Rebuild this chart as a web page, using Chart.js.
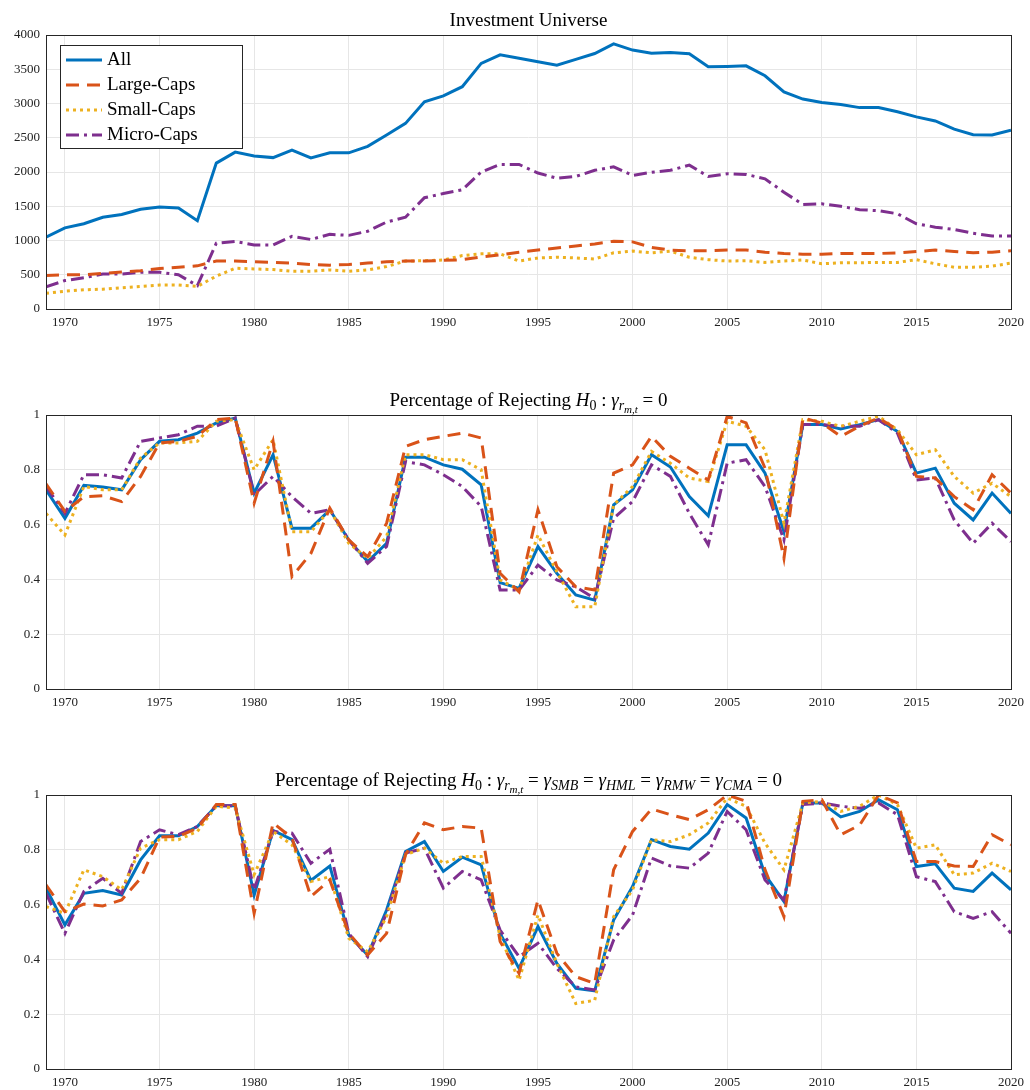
<!DOCTYPE html>
<html>
<head>
<meta charset="utf-8">
<script src="https://cdn.jsdelivr.net/npm/chart.js@4/dist/chart.umd.min.js"></script>
<style>
body { margin:0; background:#fff; }
.panel { position:absolute; left:0; width:1030px; }
</style>
</head>
<body>
<div class="panel" style="top:0;height:340px"><canvas id="c1"></canvas></div>
<div class="panel" style="top:380px;height:340px"><canvas id="c2"></canvas></div>
<div class="panel" style="top:760px;height:340px"><canvas id="c3"></canvas></div>
<script>
var years = [];
for (var y = 1969; y <= 2020; y++) years.push(y);
var xTicks = [1970, 1975, 1980, 1985, 1990, 1995, 2000, 2005, 2010, 2015, 2020];
var seriesNames = ['All', 'Large-Caps', 'Small-Caps', 'Micro-Caps'];

// Investment universe (number of stocks)
var uniAll = [1050,1185,1245,1340,1380,1455,1490,1475,1290,2130,2290,2235,2210,2320,2205,2280,2280,2375,2540,2710,3025,3110,3245,3585,3710,3660,3610,3560,3645,3730,3870,3780,3735,3745,3725,3535,3540,3550,3405,3170,3065,3015,2985,2940,2940,2880,2805,2745,2625,2545,2540,2610];
var uniLarge = [490,500,500,520,540,560,590,610,630,700,700,690,680,670,650,640,650,670,690,700,700,710,720,760,790,830,860,890,920,950,990,980,900,860,850,850,860,860,830,810,800,800,810,810,810,820,840,860,840,820,830,850];
var uniSmall = [230,260,280,290,310,330,350,350,330,480,595,585,575,550,550,570,550,570,620,700,705,715,780,805,805,700,745,755,745,730,820,845,820,845,755,720,700,705,680,700,715,660,675,675,680,680,720,660,610,610,625,670];
var uniMicro = [325,415,455,510,510,535,535,500,340,960,985,935,935,1060,1015,1090,1075,1135,1270,1340,1625,1685,1740,2000,2110,2110,1985,1910,1935,2025,2075,1950,1995,2025,2100,1935,1975,1965,1900,1705,1525,1535,1500,1450,1435,1390,1245,1195,1160,1105,1065,1065];

// Share rejecting H0: gamma_rm = 0
var p1All = [0.727,0.623,0.743,0.737,0.727,0.837,0.904,0.91,0.934,0.971,0.989,0.715,0.855,0.587,0.587,0.654,0.544,0.465,0.532,0.846,0.846,0.818,0.802,0.745,0.388,0.367,0.52,0.422,0.343,0.324,0.672,0.727,0.855,0.81,0.702,0.632,0.891,0.891,0.788,0.574,0.965,0.965,0.949,0.965,0.983,0.94,0.788,0.806,0.678,0.617,0.715,0.641];
var p1Large = [0.749,0.648,0.702,0.705,0.684,0.776,0.898,0.904,0.922,0.983,0.989,0.678,0.904,0.41,0.495,0.66,0.544,0.483,0.605,0.885,0.91,0.922,0.934,0.916,0.422,0.355,0.654,0.446,0.373,0.361,0.788,0.818,0.922,0.849,0.806,0.763,0.995,0.971,0.806,0.477,0.989,0.971,0.922,0.959,0.989,0.946,0.776,0.77,0.702,0.654,0.782,0.715];
var p1Small = [0.641,0.562,0.739,0.727,0.727,0.843,0.898,0.898,0.904,0.977,0.983,0.8,0.91,0.574,0.574,0.654,0.532,0.477,0.556,0.855,0.855,0.837,0.837,0.8,0.398,0.361,0.562,0.428,0.3,0.3,0.672,0.739,0.867,0.824,0.77,0.757,0.977,0.959,0.873,0.605,0.983,0.977,0.959,0.977,0.995,0.946,0.855,0.873,0.776,0.715,0.751,0.702];
var p1Micro = [0.739,0.641,0.782,0.782,0.77,0.904,0.916,0.928,0.959,0.959,0.989,0.709,0.776,0.702,0.641,0.654,0.544,0.459,0.52,0.83,0.818,0.782,0.739,0.666,0.361,0.361,0.452,0.398,0.373,0.33,0.623,0.684,0.818,0.776,0.641,0.526,0.824,0.837,0.739,0.544,0.965,0.965,0.959,0.959,0.983,0.934,0.763,0.77,0.617,0.532,0.605,0.538];

// Share rejecting joint H0 (five factors)
var p5All = [0.66,0.526,0.641,0.651,0.635,0.763,0.851,0.851,0.885,0.961,0.961,0.635,0.871,0.837,0.688,0.741,0.489,0.416,0.58,0.794,0.83,0.721,0.773,0.745,0.495,0.367,0.52,0.385,0.294,0.285,0.544,0.666,0.837,0.812,0.802,0.861,0.965,0.916,0.709,0.611,0.971,0.971,0.92,0.94,0.983,0.946,0.739,0.749,0.66,0.648,0.715,0.654];
var p5Large = [0.672,0.574,0.602,0.595,0.617,0.696,0.846,0.849,0.879,0.965,0.965,0.568,0.898,0.843,0.629,0.69,0.495,0.416,0.495,0.782,0.898,0.873,0.885,0.879,0.465,0.349,0.617,0.422,0.337,0.312,0.727,0.867,0.949,0.928,0.91,0.946,1.0,0.977,0.727,0.556,0.977,0.983,0.855,0.89,1.0,0.971,0.757,0.757,0.741,0.739,0.855,0.818];
var p5Small = [0.593,0.568,0.727,0.702,0.654,0.806,0.837,0.837,0.867,0.959,0.952,0.709,0.867,0.818,0.684,0.702,0.477,0.428,0.556,0.782,0.806,0.751,0.776,0.776,0.483,0.324,0.562,0.385,0.239,0.251,0.556,0.654,0.837,0.83,0.855,0.898,0.989,0.959,0.824,0.727,0.971,0.977,0.94,0.959,1.0,0.965,0.806,0.818,0.709,0.715,0.751,0.721];
var p5Micro = [0.641,0.495,0.648,0.696,0.641,0.83,0.873,0.855,0.885,0.961,0.961,0.654,0.867,0.861,0.751,0.802,0.495,0.41,0.568,0.788,0.806,0.66,0.721,0.69,0.507,0.41,0.459,0.367,0.3,0.288,0.471,0.562,0.77,0.741,0.733,0.788,0.94,0.873,0.69,0.617,0.965,0.971,0.959,0.952,0.971,0.928,0.702,0.684,0.574,0.55,0.574,0.495];

var colors = ['#0072BD', '#D95319', '#EDB120', '#7E2F8E'];
var dashes = [[], [13, 8], [3, 4], [13, 5, 3, 5]];
var serif = '"Liberation Serif", "DejaVu Serif", serif';

function makeDatasets(arrs) {
    var ds = [];
    for (var i = 0; i < arrs.length; i++) {
        ds.push({
            label: seriesNames[i],
            data: years.map(function (yr, k) { return { x: yr, y: arrs[i][k] }; }),
            borderColor: colors[i],
            backgroundColor: colors[i],
            borderWidth: 3,
            borderDash: dashes[i],
            pointRadius: 0,
            tension: 0,
            fill: false
        });
    }
    // draw All on top
    return [ds[1], ds[2], ds[3], ds[0]];
}

// title drawn from segments so H0 and gamma subscripts look right
function titlePlugin(segs) {
    return {
        id: 'richTitle',
        afterDraw: function (chart) {
            var ctx = chart.ctx, a = chart.chartArea;
            function fontFor(s) {
                var size = s.lvl === 2 ? 11 : (s.lvl === 1 ? 14 : 19);
                return (s.it ? 'italic ' : '') + size + 'px ' + serif;
            }
            var total = 0;
            segs.forEach(function (s) { ctx.font = fontFor(s); total += ctx.measureText(s.t).width; });
            var x = (a.left + a.right) / 2 - total / 2, base = a.top - 9;
            ctx.save();
            ctx.fillStyle = '#000';
            ctx.textBaseline = 'alphabetic';
            segs.forEach(function (s) {
                ctx.font = fontFor(s);
                var dy = s.lvl === 2 ? 7 : (s.lvl === 1 ? 4 : 0);
                ctx.fillText(s.t, x, base + dy);
                x += ctx.measureText(s.t).width;
            });
            ctx.restore();
        }
    };
}

var framePlugin = {
    id: 'frame',
    afterDraw: function (chart) {
        var ctx = chart.ctx, a = chart.chartArea;
        ctx.save();
        ctx.strokeStyle = '#262626';
        ctx.lineWidth = 1;
        ctx.strokeRect(a.left + 0.5, a.top + 0.5, a.right - a.left, a.bottom - a.top);
        ctx.restore();
    }
};

var legendPlugin = {
    id: 'boxLegend',
    afterDraw: function (chart) {
        var ctx = chart.ctx, a = chart.chartArea;
        var x0 = a.left + 14, y0 = a.top + 10, w = 182, h = 103;
        ctx.save();
        ctx.fillStyle = '#fff';
        ctx.fillRect(x0, y0, w, h);
        ctx.strokeStyle = '#262626';
        ctx.lineWidth = 1;
        ctx.strokeRect(x0 + 0.5, y0 + 0.5, w, h);
        ctx.font = '19px ' + serif;
        ctx.textBaseline = 'middle';
        for (var i = 0; i < 4; i++) {
            var cy = y0 + 15 + i * 25;
            ctx.strokeStyle = colors[i];
            ctx.lineWidth = 3;
            ctx.setLineDash(dashes[i]);
            ctx.beginPath();
            ctx.moveTo(x0 + 6, cy);
            ctx.lineTo(x0 + 42, cy);
            ctx.stroke();
            ctx.setLineDash([]);
            ctx.fillStyle = '#000';
            ctx.fillText(seriesNames[i], x0 + 47, cy);
        }
        ctx.restore();
    }
};

function makeChart(id, arrs, yMax, yStep, segs, withLegend) {
    var plugins = [framePlugin, titlePlugin(segs)];
    if (withLegend) plugins.push(legendPlugin);
    return new Chart(document.getElementById(id), {
        type: 'line',
        data: { datasets: makeDatasets(arrs) },
        plugins: plugins,
        options: {
            responsive: true,
            maintainAspectRatio: false,
            animation: false,
            layout: { padding: { top: 35, right: 19, left: 0, bottom: 0 } },
            plugins: { legend: { display: false }, title: { display: false }, tooltip: { enabled: false } },
            scales: {
                x: {
                    type: 'linear', min: 1969, max: 2020,
                    afterBuildTicks: function (s) { s.ticks = xTicks.map(function (v) { return { value: v }; }); },
                    afterFit: function (s) { s.height = 31; },
                    grid: { color: '#e6e6e6', drawTicks: false },
                    border: { display: false },
                    ticks: { color: '#222', padding: 6, maxRotation: 0, font: { family: serif, size: 13 }, callback: function (v) { return String(v); } }
                },
                y: {
                    min: 0, max: yMax,
                    afterFit: function (s) { s.width = 46; },
                    grid: { color: '#e6e6e6', drawTicks: false },
                    border: { display: false },
                    ticks: { stepSize: yStep, color: '#222', padding: 6, font: { family: serif, size: 13 }, callback: function (v) { return String(Math.round(v * 10) / 10); } }
                }
            }
        }
    });
}

makeChart('c1', [uniAll, uniLarge, uniSmall, uniMicro], 4000, 500,
    [{ t: 'Investment Universe' }], true);

makeChart('c2', [p1All, p1Large, p1Small, p1Micro], 1, 0.2,
    [{ t: 'Percentage of Rejecting ' }, { t: 'H', it: 1 }, { t: '0', lvl: 1 }, { t: ' : ' }, { t: 'γ', it: 1 },
     { t: 'r', it: 1, lvl: 1 }, { t: 'm,t', it: 1, lvl: 2 }, { t: ' = 0' }], false);

makeChart('c3', [p5All, p5Large, p5Small, p5Micro], 1, 0.2,
    [{ t: 'Percentage of Rejecting ' }, { t: 'H', it: 1 }, { t: '0', lvl: 1 }, { t: ' : ' }, { t: 'γ', it: 1 },
     { t: 'r', it: 1, lvl: 1 }, { t: 'm,t', it: 1, lvl: 2 }, { t: ' = ' }, { t: 'γ', it: 1 }, { t: 'SMB', it: 1, lvl: 1 },
     { t: ' = ' }, { t: 'γ', it: 1 }, { t: 'HML', it: 1, lvl: 1 }, { t: ' = ' }, { t: 'γ', it: 1 }, { t: 'RMW', it: 1, lvl: 1 },
     { t: ' = ' }, { t: 'γ', it: 1 }, { t: 'CMA', it: 1, lvl: 1 }, { t: ' = 0' }], false);
</script>
</body>
</html>
